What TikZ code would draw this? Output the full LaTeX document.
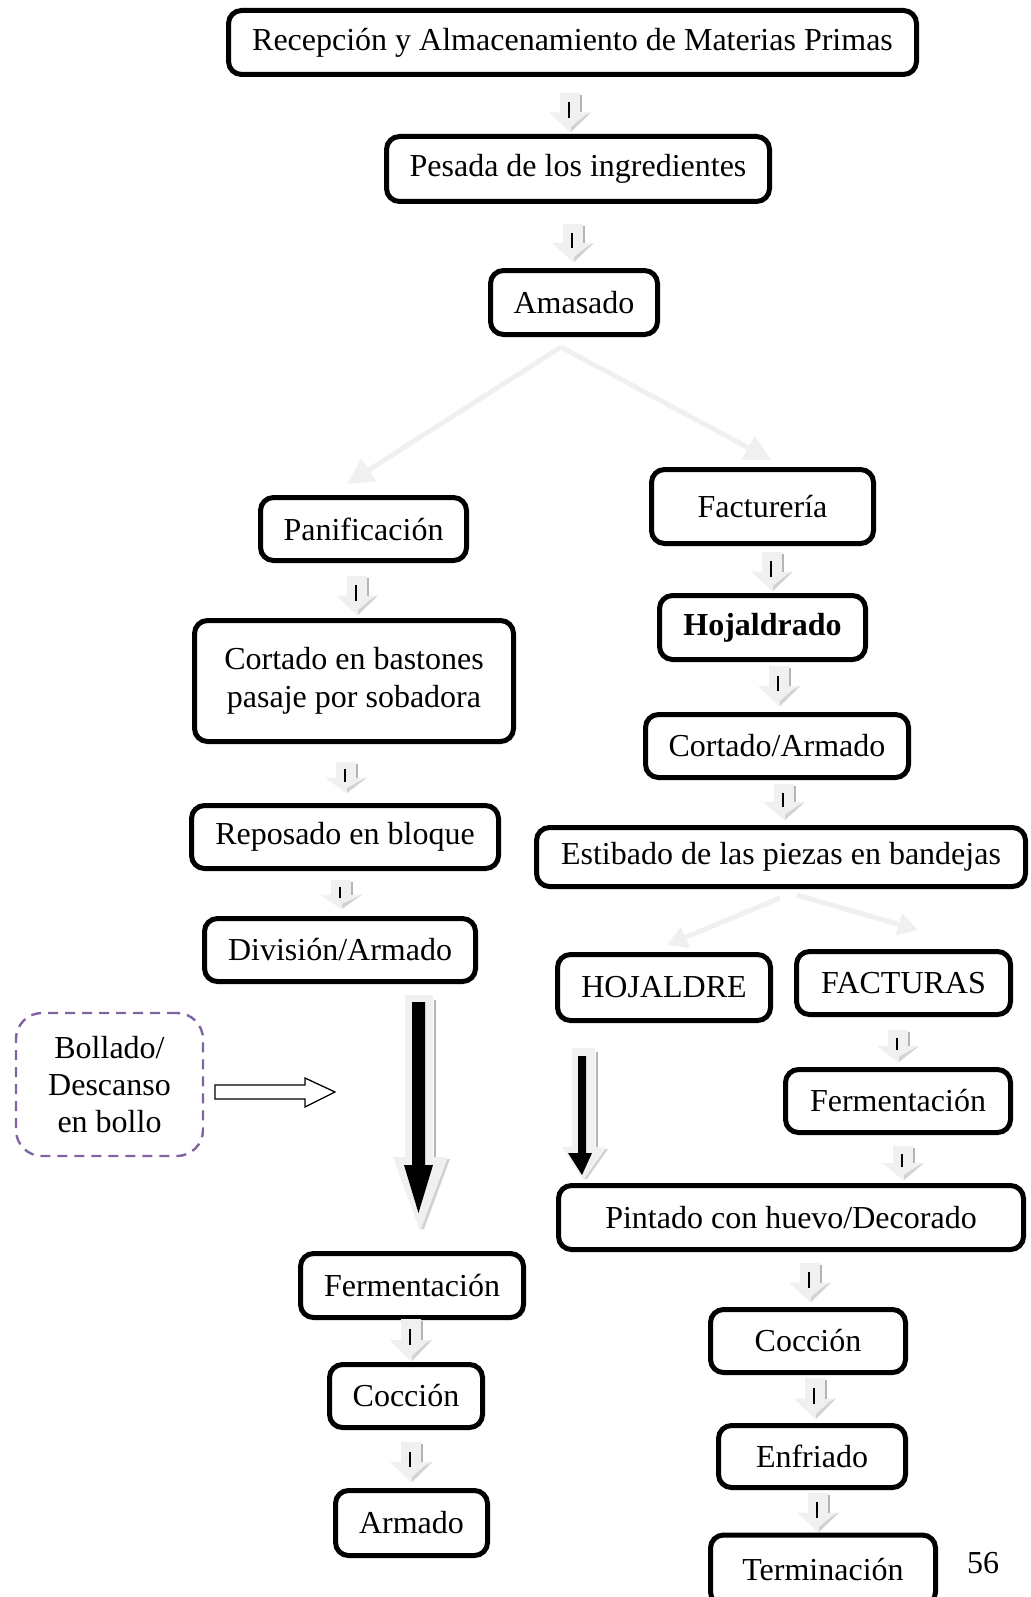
\documentclass[tikz,border=0pt]{standalone}
\usepackage{fontspec}
\setmainfont{Liberation Serif}
\usetikzlibrary{arrows.meta}
\definecolor{lgray}{HTML}{F0F0F0}
\definecolor{hgray}{HTML}{B4B4B4}
\definecolor{dgray}{HTML}{D2D2D2}
\definecolor{purp}{HTML}{8064A2}
\newcommand{\sarr}[3]{%
  \pgfmathsetmacro{\hm}{#2+0.5*(#3-#2)}%
  \pgfmathsetmacro{\la}{#2+0.24*(#3-#2)}%
  \pgfmathsetmacro{\lb}{#2+0.63*(#3-#2)}%
  \fill[lgray] (#1-10,#2) -- (#1+10,#2) -- (#1+10,\hm) -- (#1+21,\hm) -- (#1,#3) -- (#1-21,\hm) -- (#1-10,\hm) -- cycle;
  \fill[dgray] (#1+1,#3) -- (#1+21,\hm) -- (#1+15,\hm+3) -- (#1+1,#3-5) -- cycle;
  \draw[hgray,line width=1.2pt] (#1+11,#2+2) -- (#1+11,\hm);
  \draw[black,line width=2.5pt] (#1-1,\la) -- (#1-1,\lb);
}
\begin{document}
\begin{tikzpicture}[x=1pt,y=-1pt,
  box/.style={draw,line width=5pt,rounded corners=13pt,align=center,inner sep=0pt,
    font=\fontsize{32}{38}\selectfont},
  dbox/.style={draw=purp,line width=2.4pt,dash pattern=on 10pt off 7pt,rounded corners=26pt,
    align=center,inner sep=0pt,font=\fontsize{32}{37}\selectfont},
  split/.style={lgray,line width=5pt,-{Triangle[length=26pt,width=26pt]}},
  split2/.style={lgray,line width=5pt,-{Triangle[length=20pt,width=22pt]}}]
\useasboundingbox (0,0) rectangle (1030,1597);
\clip (0,0) rectangle (1030,1597);

% nodes
\node[box,minimum width=688pt,minimum height=64pt] (rec) at (572.5,42.5) {Recepción y Almacenamiento de Materias Primas};
\node[box,minimum width=383pt,minimum height=65pt] (pes) at (578,169) {Pesada de los ingredientes};
\node[box,minimum width=167pt,minimum height=64pt] (ama) at (574,302.5) {Amasado};
\node[box,minimum width=206pt,minimum height=63pt] (pan) at (363.5,529) {Panificación};
\node[box,minimum width=222pt,minimum height=74pt] (fac) at (762.5,506.5) {Facturería};
\node[box,minimum width=206pt,minimum height=64pt,font=\fontsize{32}{38}\selectfont\bfseries] (hoj) at (762.5,627.5) {Hojaldrado};
\node[box,minimum width=319pt,minimum height=121pt] (cor) at (354,681) {Cortado en bastones\\pasaje por sobadora};
\node[box,minimum width=263pt,minimum height=63pt] (ca) at (777,746) {Cortado/Armado};
\node[box,minimum width=307pt,minimum height=63pt] (rep) at (345,837) {Reposado en bloque};
\node[box,minimum width=489pt,minimum height=59pt] (est) at (781,857) {Estibado de las piezas en bandejas};
\node[box,minimum width=271pt,minimum height=63pt] (div) at (340,950) {División/Armado};
\node[box,minimum width=213pt,minimum height=66pt] (HOJ) at (664,987.5) {HOJALDRE};
\node[box,minimum width=214pt,minimum height=63pt] (FAC) at (903.5,983) {FACTURAS};
\node[dbox,minimum width=187pt,minimum height=143pt] (bol) at (109.5,1084.5) {Bollado/\\Descanso\\en bollo};
\node[box,minimum width=225pt,minimum height=63pt] (ferR) at (898,1101) {Fermentación};
\node[box,minimum width=465pt,minimum height=64pt] (pin) at (791,1217.5) {Pintado con huevo/Decorado};
\node[box,minimum width=223pt,minimum height=64pt] (ferL) at (412,1285.5) {Fermentación};
\node[box,minimum width=195pt,minimum height=63pt] (cocR) at (808,1341) {Cocción};
\node[box,minimum width=153pt,minimum height=63pt] (cocL) at (406,1396) {Cocción};
\node[box,minimum width=187pt,minimum height=62pt] (enf) at (812,1456.5) {Enfriado};
\node[box,minimum width=152pt,minimum height=65pt] (arm) at (411.5,1523) {Armado};
\node[box,minimum width=225pt,minimum height=70pt] (ter) at (823,1570) {Terminación};
\node[font=\fontsize{32}{38}\selectfont,inner sep=0pt] (pg) at (983,1563) {56};

% small block arrows
\sarr{570}{93}{132}
\sarr{573}{224}{262}
\sarr{357}{576}{615}
\sarr{346}{762}{793}
\sarr{341}{880}{909}
\sarr{772}{552}{591}
\sarr{779}{666}{706}
\sarr{784}{784}{820}
\sarr{898}{1030}{1062}
\sarr{903}{1146}{1180}
\sarr{810}{1263}{1302}
\sarr{815}{1378}{1419}
\sarr{818}{1493}{1532}
\sarr{411}{1319}{1361}
\sarr{411}{1442}{1482}

% split from Amasado
\coordinate (sa) at (561,347);
\coordinate (saL) at (347,484);
\coordinate (saR) at (771,460);
\draw[split] (sa) -- (saL);
\draw[split] (sa) -- (saR);

% split from Estibado
\coordinate (seL0) at (780,898);
\coordinate (seL) at (667,945);
\coordinate (seR0) at (797,895);
\coordinate (seR) at (918,930);
\draw[split2] (seL0) -- (seL);
\draw[split2] (seR0) -- (seR);

% big arrow left (Division -> Fermentacion)
\fill[lgray] (405,995) -- (433,995) -- (433,1157) -- (447,1157) -- (420,1231) -- (393,1157) -- (405,1157) -- cycle;
\draw[hgray,line width=1.2pt] (435,1000) -- (435,1157);
\fill[dgray] (421,1229) -- (447,1159) -- (450,1159) -- (424,1229) -- cycle;
\fill[black] (412,1002) -- (425,1002) -- (425,1165) -- (433,1165) -- (418.5,1213) -- (404,1165) -- (412,1165) -- cycle;

% big arrow HOJALDRE -> Pintado
\fill[lgray] (572,1048) -- (595,1048) -- (595,1147) -- (605,1147) -- (583,1180) -- (562,1147) -- (572,1147) -- cycle;
\draw[hgray,line width=1.2pt] (597,1052) -- (597,1147);
\fill[dgray] (584,1179) -- (605,1149) -- (608,1149) -- (587,1179) -- cycle;
\fill[black] (578,1056) -- (586,1056) -- (586,1153) -- (592,1153) -- (582,1175) -- (568,1153) -- (578,1153) -- cycle;

% open arrow from Bollado
\draw[line width=1.3pt,fill=white] (215,1085) -- (305,1085) -- (305,1078) -- (335,1092) -- (305,1107) -- (305,1099) -- (215,1099) -- cycle;
\end{tikzpicture}
\end{document}
